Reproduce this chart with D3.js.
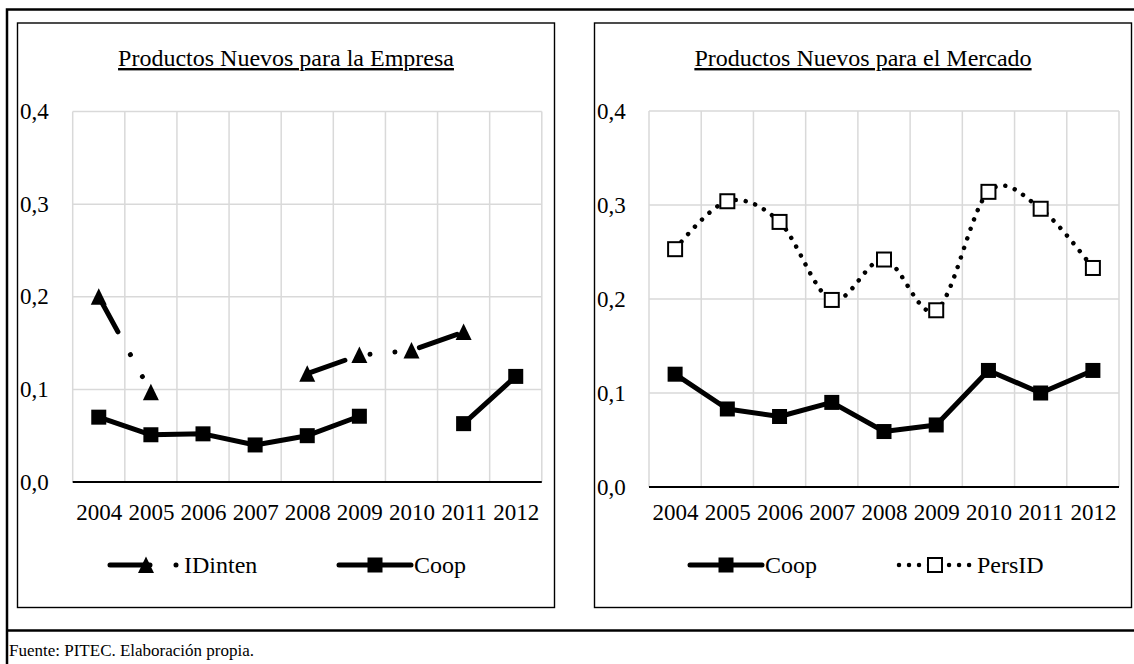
<!DOCTYPE html>
<html>
<head>
<meta charset="utf-8">
<script src="https://cdn.jsdelivr.net/npm/d3@7"></script>
<style>
  html, body { margin: 0; padding: 0; background: #fff; }
  svg { display: block; }
  text { font-family: "Liberation Serif", "Times New Roman", serif; fill: #000; }
</style>
</head>
<body>
<svg id="chart" width="1134" height="664"></svg>
<script>
// Years on the category axis
const years = ["2004", "2005", "2006", "2007", "2008", "2009", "2010", "2011", "2012"];

// Productos Nuevos para la Empresa
const empresaIDinten = [0.200, 0.097, null, null, 0.117, 0.137, 0.142, 0.162, null];
const empresaCoop    = [0.070, 0.051, 0.052, 0.040, 0.050, 0.071, null, 0.063, 0.114];

// Productos Nuevos para el Mercado
const mercadoCoop   = [0.120, 0.083, 0.075, 0.090, 0.059, 0.066, 0.124, 0.100, 0.124];
const mercadoPersID = [0.253, 0.304, 0.282, 0.199, 0.242, 0.188, 0.314, 0.296, 0.233];

// Value axis ticks
const yTicks = [0, 0.1, 0.2, 0.3, 0.4];
const yTickLabels = ["0,0", "0,1", "0,2", "0,3", "0,4"];

const titles = ["Productos Nuevos para la Empresa", "Productos Nuevos para el Mercado"];
const footnote = "Fuente: PITEC. Elaboración propia.";

const svg = d3.select("#chart");
const AXIS_FONT = 23;
const TITLE_FONT = 24;
const LEGEND_FONT = 24;

// Outer frame: top and left rules plus the rule above the source note
svg.append("path")
  .attr("d", "M7,664 V9.5 H1134")
  .attr("fill", "none").attr("stroke", "#000").attr("stroke-width", 2.5);
svg.append("line")
  .attr("x1", 7).attr("x2", 1134).attr("y1", 630.5).attr("y2", 630.5)
  .attr("stroke", "#000").attr("stroke-width", 2.5);

svg.append("text")
  .attr("x", 9).attr("y", 656)
  .attr("font-size", 17)
  .text(footnote);

// Series styles
const styles = {
  IDinten: { width: 5, dash: "40 26 0.01 25 0.01 25", curve: d3.curveLinear, marker: "triangle" },
  Coop:    { width: 5, dash: null, curve: d3.curveLinear, marker: "square" },
  PersID:  { width: 4.5, dash: "0.01 10", curve: d3.curveCardinal.tension(0), marker: "openSquare" }
};

function drawMarker(g, type, x, y) {
  if (type === "square") {
    g.append("rect").attr("x", x - 7.5).attr("y", y - 7.5)
      .attr("width", 15).attr("height", 15).attr("fill", "#000");
  } else if (type === "openSquare") {
    g.append("rect").attr("x", x - 7).attr("y", y - 7)
      .attr("width", 14).attr("height", 14)
      .attr("fill", "#fff").attr("stroke", "#000").attr("stroke-width", 2);
  } else if (type === "triangle") {
    g.append("path")
      .attr("d", `M${x},${y - 8.5} L${x + 8},${y + 8} L${x - 8},${y + 8} Z`)
      .attr("fill", "#000");
  }
}

function drawPanel(p) {
  const g = svg.append("g");

  // Panel border
  g.append("rect")
    .attr("x", p.box[0]).attr("y", p.box[1])
    .attr("width", p.box[2] - p.box[0]).attr("height", p.box[3] - p.box[1])
    .attr("fill", "#fff").attr("stroke", "#000").attr("stroke-width", 1.4);

  // Title (underlined)
  g.append("text")
    .attr("x", (p.box[0] + p.box[2]) / 2).attr("y", 66)
    .attr("text-anchor", "middle")
    .attr("font-size", TITLE_FONT)
    .attr("text-decoration", "underline")
    .text(p.title);

  const xBand = d3.scaleBand().domain(years).range([p.plot.l, p.plot.r]).padding(0);
  const xPt = d3.scalePoint().domain(years).range([p.plot.l, p.plot.r]).padding(0.5);
  const y = d3.scaleLinear().domain([0, 0.4]).range([p.plot.b, p.plot.t]);

  // Gridlines
  const grid = g.append("g").attr("stroke", "#d9d9d9").attr("stroke-width", 1.5);
  yTicks.filter(t => t > 0).forEach(t => {
    grid.append("line").attr("x1", p.plot.l).attr("x2", p.plot.r)
      .attr("y1", y(t)).attr("y2", y(t));
  });
  years.concat([null]).forEach(yr => {
    const xx = yr === null ? p.plot.r : xBand(yr);
    grid.append("line").attr("x1", xx).attr("x2", xx)
      .attr("y1", p.plot.t).attr("y2", p.plot.b);
  });

  // Category axis line
  g.append("line")
    .attr("x1", p.plot.l).attr("x2", p.plot.r)
    .attr("y1", p.plot.b).attr("y2", p.plot.b)
    .attr("stroke", "#000").attr("stroke-width", 2);

  // Value axis labels
  yTicks.forEach((t, i) => {
    g.append("text")
      .attr("x", p.yLabelX).attr("y", y(t)).attr("dy", "0.33em")
      .attr("font-size", AXIS_FONT)
      .text(yTickLabels[i]);
  });

  // Category labels
  const xAxis = d3.axisBottom(xPt).tickSize(0).tickPadding(0);
  const ax = g.append("g").attr("transform", `translate(0,${p.xLabelY})`).call(xAxis);
  ax.select(".domain").remove();
  ax.selectAll("text")
    .attr("font-size", AXIS_FONT)
    .attr("font-family", "Liberation Serif, Times New Roman, serif")
    .attr("fill", "#000")
    .attr("dy", 0);

  // Series lines then markers
  p.series.forEach(s => {
    const st = styles[s.name];
    const pts = years.map((yr, i) => ({ yr, v: s.values[i] }));
    const line = d3.line()
      .defined(d => d.v !== null)
      .x(d => xPt(d.yr)).y(d => y(d.v))
      .curve(st.curve);
    g.append("path")
      .attr("d", line(pts))
      .attr("fill", "none").attr("stroke", "#000")
      .attr("stroke-width", st.width)
      .attr("stroke-linecap", "round").attr("stroke-linejoin", "round")
      .attr("stroke-dasharray", st.dash);
  });
  p.series.forEach(s => {
    const st = styles[s.name];
    years.forEach((yr, i) => {
      if (s.values[i] !== null) drawMarker(g, st.marker, xPt(yr), y(s.values[i]));
    });
  });

  // Legend
  p.legend.forEach(item => {
    const st = styles[item.name];
    const ly = p.legendY;
    g.append("path")
      .attr("d", `M${item.x0},${ly} H${item.x1}`)
      .attr("fill", "none").attr("stroke", "#000")
      .attr("stroke-width", st.width)
      .attr("stroke-linecap", "round")
      .attr("stroke-dasharray", st.dash);
    drawMarker(g, st.marker, (item.x0 + item.x1) / 2, ly);
    g.append("text")
      .attr("x", item.tx).attr("y", ly).attr("dy", "0.33em")
      .attr("font-size", LEGEND_FONT)
      .text(item.name);
  });
}

drawPanel({
  title: titles[0],
  box: [17.5, 23, 554.5, 607.5],
  plot: { l: 72.7, r: 541.8, t: 111.5, b: 482 },
  yLabelX: 20,
  xLabelY: 520,
  legendY: 565,
  series: [
    { name: "IDinten", values: empresaIDinten },
    { name: "Coop", values: empresaCoop }
  ],
  legend: [
    { name: "IDinten", x0: 110, x1: 182, tx: 184 },
    { name: "Coop", x0: 339, x1: 411, tx: 414 }
  ]
});

drawPanel({
  title: titles[1],
  box: [594.5, 23, 1131.5, 607.5],
  plot: { l: 649, r: 1119, t: 111, b: 487 },
  yLabelX: 597,
  xLabelY: 520,
  legendY: 565,
  series: [
    { name: "Coop", values: mercadoCoop },
    { name: "PersID", values: mercadoPersID }
  ],
  legend: [
    { name: "Coop", x0: 690, x1: 762, tx: 765 },
    { name: "PersID", x0: 899, x1: 971, tx: 977 }
  ]
});
</script>
</body>
</html>
